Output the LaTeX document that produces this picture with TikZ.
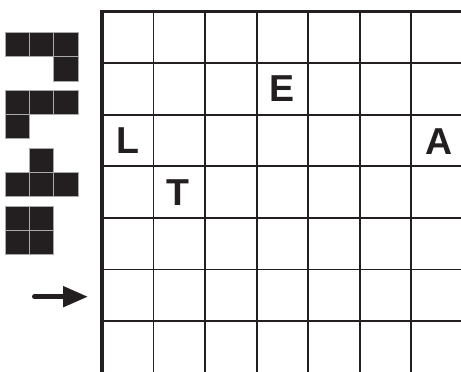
\documentclass[tikz,border=0pt]{standalone}
\usepackage{fontspec}
\setmainfont{Liberation Sans}
\usetikzlibrary{arrows.meta}
\definecolor{ink}{HTML}{231F20}
\definecolor{seam}{HTML}{A7A9AC}
\begin{document}
\begin{tikzpicture}[x=1pt,y=-1pt,
  cellbox/.style={fill=ink,draw=seam,line width=0.8pt},
  letter/.style={font=\fontsize{37.5}{37.5}\selectfont\bfseries,text=ink,inner sep=0pt},
  gridline/.style={draw=ink,line width=1.8pt}]
\useasboundingbox (0,0) rectangle (461,372);
\begin{scope}
  \clip (0,0) rectangle (461,372);
  \foreach \k in {1,...,7}
    \draw[gridline] ({102+51.55*\k},11.5) -- ({102+51.55*\k},380);
  \foreach \k in {1,...,7}
    \draw[gridline] (102,{11.5+51.6*\k}) -- (470,{11.5+51.6*\k});
  \draw[ink,line width=4.3pt] (102,9.75) -- (102,380);
  \draw[ink,line width=3.5pt] (99.85,11.5) -- (470,11.5);
\end{scope}
% pieces
\foreach \x/\y in {5/32.3,29.3/32.3,53.6/32.3,53.6/56.6,
                   5/90,29.3/90,53.6/90,5/114.3,
                   29.3/148,5/172.3,29.3/172.3,53.6/172.3,
                   5/206,29.3/206,5/230.3,29.3/230.3}
  \draw[cellbox] (\x,\y) rectangle ++(24.3,24.3);
% arrow
\coordinate (arrowtail) at (34.5,296.7);
\coordinate (arrowtip) at (88,296.7);
\draw[ink,line width=5pt,line cap=round,-{Triangle[length=25pt,width=20pt]}] (arrowtail) -- (arrowtip);
% letters
\node[letter] (E) at (282.2,88.3) {E};
\node[letter] (L) at (127.5,140.2) {L};
\node[letter] (A) at (439,141.8) {A};
\node[letter] (T) at (178.3,193) {T};
\end{tikzpicture}
\end{document}
